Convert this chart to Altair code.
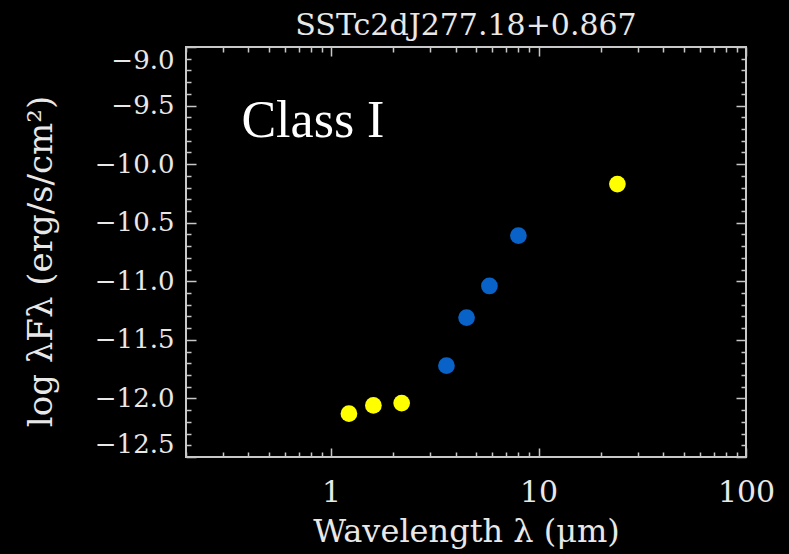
import altair as alt
import pandas as pd

# data
wavelength = [1.22, 1.60, 2.19, 3.6, 4.5, 5.8, 8.0, 24.0]
log_flux = [-12.13, -12.06, -12.04, -11.72, -11.31, -11.04, -10.61, -10.17]
instrument = ["2MASS", "2MASS", "2MASS", "IRAC", "IRAC", "IRAC", "IRAC", "MIPS"]

x_major = [1, 10, 100]
x_minor = [0.2, 0.3, 0.4, 0.5, 0.6, 0.7, 0.8, 0.9,
           2, 3, 4, 5, 6, 7, 8, 9,
           20, 30, 40, 50, 60, 70, 80, 90]
y_major = [-9.0, -9.5, -10.0, -10.5, -11.0, -11.5, -12.0, -12.5]
y_minor = [-9.1, -9.2, -9.3, -9.4, -9.6, -9.7, -9.8, -9.9,
           -10.1, -10.2, -10.3, -10.4, -10.6, -10.7, -10.8, -10.9,
           -11.1, -11.2, -11.3, -11.4, -11.6, -11.7, -11.8, -11.9,
           -12.1, -12.2, -12.3, -12.4]

label_text = ["Class I"]
label_x = [0.37]
label_y = [-9.77]

df = pd.DataFrame({"wl": wavelength, "f": log_flux, "inst": instrument})
lab = pd.DataFrame({"t": label_text, "x": label_x, "y": label_y})

FG = "#e8e8e8"
LINE = "#c8c8c8"
FONT = "DejaVu Serif"

xs = alt.Scale(type="log", domain=[0.2, 100], nice=False)
ys = alt.Scale(domain=[-12.5, -9.0], nice=False, zero=False)


def tick_axis(orient, values, size):
    return alt.Axis(orient=orient, values=values, tickSize=size, offset=-size,
                    labels=False, domain=False, grid=False, title=None,
                    tickColor=LINE, tickWidth=1.5)


points = alt.Chart(df).mark_circle(size=280, opacity=1).encode(
    x=alt.X("wl:Q", scale=xs, axis=alt.Axis(
        orient="bottom", values=x_major, format="~g", tickSize=9, offset=-9,
        domain=False, grid=False, tickColor=LINE, tickWidth=1.5,
        labelFont=FONT, labelFontSize=30, labelColor=FG, labelPadding=20,
        labelFlush=False,
        title="Wavelength λ (μm)", titleFont=FONT, titleFontSize=32,
        titleFontWeight="normal", titleColor=FG, titlePadding=9)),
    y=alt.Y("f:Q", scale=ys, axis=alt.Axis(
        orient="left", values=y_major, format=".1f", tickSize=10, offset=-10,
        domain=False, grid=False, tickColor=LINE, tickWidth=1.5,
        labelFont=FONT, labelFontSize=26, labelColor=FG, labelPadding=12,
        labelFlush=True,
        title="log λFλ (erg/s/cm²)", titleFont=FONT, titleFontSize=34,
        titleFontWeight="normal", titleColor=FG, titlePadding=36,
        titleY=214)),
    color=alt.Color("inst:N", scale=alt.Scale(
        domain=["2MASS", "IRAC", "MIPS"],
        range=["#ffff00", "#0862c8", "#ffff00"]), legend=None),
)

minor_bl = alt.Chart(df).mark_point(opacity=0).encode(
    x=alt.X("wl:Q", scale=xs, axis=tick_axis("bottom", x_minor, 5)),
    y=alt.Y("f:Q", scale=ys, axis=tick_axis("left", y_minor, 5)),
)
major_tr = alt.Chart(df).mark_point(opacity=0).encode(
    x=alt.X("wl:Q", scale=xs, axis=tick_axis("top", x_major, 9)),
    y=alt.Y("f:Q", scale=ys, axis=tick_axis("right", y_major, 10)),
)
minor_tr = alt.Chart(df).mark_point(opacity=0).encode(
    x=alt.X("wl:Q", scale=xs, axis=tick_axis("top", x_minor, 5)),
    y=alt.Y("f:Q", scale=ys, axis=tick_axis("right", y_minor, 5)),
)
text = alt.Chart(lab).mark_text(
    font="Liberation Serif", fontSize=52, color="white",
    align="left", baseline="alphabetic").encode(
    x=alt.X("x:Q", scale=xs, axis=None),
    y=alt.Y("y:Q", scale=ys, axis=None),
    text="t:N",
)

chart = alt.layer(points, minor_bl, major_tr, minor_tr, text).resolve_scale(
    x="independent", y="independent"
).properties(
    width=560, height=410,
    title=alt.Title("SSTc2dJ277.18+0.867", font=FONT, fontSize=30,
                    fontWeight="normal", color=FG, anchor="middle",
                    baseline="alphabetic", offset=-19, frame="group"),
    autosize=alt.AutoSizeParams(type="none"),
    padding={"left": 186, "top": 47, "right": 43, "bottom": 97},
).configure(background="black").configure_view(
    stroke=LINE, strokeWidth=2, fill="black"
)

chart.save("out.html", embed_options={"renderer": "svg", "actions": False})
